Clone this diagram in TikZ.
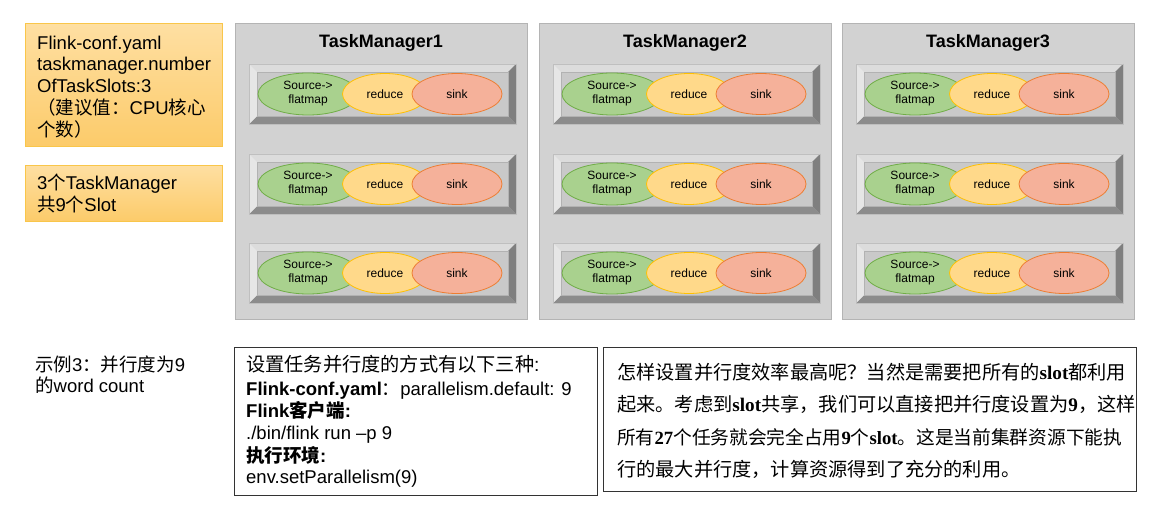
\documentclass[tikz,border=0pt]{standalone}
\usepackage{fontspec}
\setmainfont{Liberation Sans}
\newfontfamily\cjk{Noto Sans CJK SC}
\newfontfamily\tnr{Liberation Serif}
\usetikzlibrary{shapes.geometric}
\definecolor{tmfill}{HTML}{D2D2D2}
\definecolor{tmborder}{HTML}{B4B4B4}
\definecolor{facefill}{HTML}{C9C9C9}
\definecolor{bevtop}{HTML}{DCDCDC}
\definecolor{bevleft}{HTML}{E6E6E6}
\definecolor{bevbot}{HTML}{8C8C8C}
\definecolor{bevright}{HTML}{7F7F7F}
\definecolor{srcfill}{HTML}{A9D18E}
\definecolor{srcline}{HTML}{70AD47}
\definecolor{redfill}{HTML}{FFD98A}
\definecolor{redline}{HTML}{FFC000}
\definecolor{sinkfill}{HTML}{F5B19A}
\definecolor{sinkline}{HTML}{ED7D31}
\definecolor{ortop}{HTML}{FEDFA2}
\definecolor{orbot}{HTML}{FCCB6A}
\definecolor{orline}{HTML}{F9C64A}
\tikzset{
  tmbox/.style={draw=tmborder, fill=tmfill, line width=0.8pt, anchor=north west, inner sep=0pt},
  tmtitle/.style={font=\fontsize{18}{20}\selectfont\bfseries, inner sep=0pt},
  ellbase/.style={ellipse, line width=0.8pt, inner sep=0pt, align=center,
     font=\fontsize{12}{14}\selectfont},
  srcell/.style={ellbase, draw=srcline, fill=srcfill, minimum width=100, minimum height=42},
  redell/.style={ellbase, draw=redline, fill=redfill, minimum width=85, minimum height=41},
  sinkell/.style={ellbase, draw=sinkline, fill=sinkfill, minimum width=90, minimum height=41},
  orbox/.style={draw=orline, line width=0.8pt, top color=ortop, bottom color=orbot, anchor=north west, inner sep=0pt},
  txtbox/.style={draw=black!80, line width=1pt, anchor=north west, inner sep=0pt},
  line/.style={anchor=base west, inner sep=0pt, font=\fontsize{18.5}{21}\selectfont},
  bigline/.style={anchor=base west, inner sep=0pt, font=\fontsize{19.2}{21}\selectfont},
  midline/.style={anchor=base west, inner sep=0pt, font=\fontsize{18.7}{21}\selectfont},
}
\begin{document}
\begin{tikzpicture}[x=1pt,y=-1pt]
\useasboundingbox (0,0) rectangle (1154,505);
\fill[white] (0,0) rectangle (1154,505);

% orange boxes
\node[orbox, minimum width=197, minimum height=123] (cfg) at (25,23) {};
\node[orbox, minimum width=197, minimum height=56] (cnt) at (25,165) {};
\node[line] (cfg1) at (37,50) {Flink-conf.yaml};
\node[line] (cfg2) at (37,71) {taskmanager.number};
\node[line] (cfg3) at (37,93) {OfTaskSlots:3};
\node[line] (cfg4) at (37,115) {{\cjk （建议值：}CPU{\cjk 核心}};
\node[line] (cfg5) at (37,137) {{\cjk 个数）}};
\node[line] (cnt1) at (37,190) {3{\cjk 个}TaskManager};
\node[line] (cnt2) at (37,212) {{\cjk 共}9{\cjk 个}Slot};

% task managers
\foreach \i/\L in {1/235,2/539,3/842} {
  \node[tmbox, minimum width=292, minimum height=296] (tm\i) at (\L,23) {};
  \node[tmtitle] (tmt\i) at (\L+146,43) {TaskManager\i};
  \foreach \j/\T in {1/64,2/154,3/243} {
    \pgfmathsetmacro{\xa}{\L+14}
    \pgfmathsetmacro{\xb}{\L+281}
    \pgfmathsetmacro{\ya}{\T}
    \pgfmathsetmacro{\yb}{\T+60}
    \fill[bevtop] (\xa,\ya) -- (\xb,\ya) -- (\xb-8,\ya+8) -- (\xa+8,\ya+8) -- cycle;
    \fill[bevbot] (\xa,\yb) -- (\xb,\yb) -- (\xb-8,\yb-8) -- (\xa+8,\yb-8) -- cycle;
    \fill[bevleft] (\xa,\ya) -- (\xa+8,\ya+8) -- (\xa+8,\yb-8) -- (\xa,\yb) -- cycle;
    \fill[bevright] (\xb,\ya) -- (\xb-8,\ya+8) -- (\xb-8,\yb-8) -- (\xb,\yb) -- cycle;
    \draw[fill=facefill, draw=black!30, line width=0.4pt] (\xa+8,\ya+8) rectangle (\xb-8,\yb-8);
    \draw[draw=black!25, line width=0.6pt] (\xa,\ya) rectangle (\xb,\yb);
    \node[srcell] (src\i\j) at (\L+73,\T+30) {Source->\\flatmap};
    \node[redell] (red\i\j) at (\L+150,\T+30) {reduce};
    \node[sinkell] (sink\i\j) at (\L+222,\T+30) {sink};
  }
}

% example label
\node[line] (ex1) at (35,371) {{\cjk 示例}3{\cjk ：并行度为}9};
\node[line] (ex2) at (35,392) {{\cjk 的}word count};

% middle box
\node[txtbox, minimum width=363, minimum height=148] (mid) at (234,347) {};
\node[bigline] (m1) at (246,371) {{\cjk 设置任务并行度的方式有以下三种}:};
\node[line] (m2) at (246,395) {\textbf{Flink-conf.yaml}{\cjk ：}parallelism.default: 9};
\node[line] (m3) at (246,417) {\textbf{Flink{\cjk\bfseries 客户端}:}};
\node[line] (m4) at (246,439) {./bin/flink run –p 9};
\node[line] (m5) at (246,462) {{\cjk\bfseries 执行环境}\textbf{:}};
\node[line] (m6) at (246,483) {env.setParallelism(9)};

% right box
\node[txtbox, minimum width=533, minimum height=144] (rt) at (603,347) {};
\node[bigline] (r1) at (617,379) {\cjk 怎样设置并行度效率最高呢？当然是需要把所有的{\tnr\bfseries slot}都利用};
\node[bigline] (r2) at (617,411) {\cjk 起来。考虑到{\tnr\bfseries slot}共享，我们可以直接把并行度设置为{\tnr\bfseries 9}，这样};
\node[midline] (r3) at (617,444) {\cjk 所有{\tnr\bfseries 27}个任务就会完全占用{\tnr\bfseries 9}个{\tnr\bfseries slot}。这是当前集群资源下能执};
\node[bigline] (r4) at (617,476) {\cjk 行的最大并行度，计算资源得到了充分的利用。};
\end{tikzpicture}
\end{document}
